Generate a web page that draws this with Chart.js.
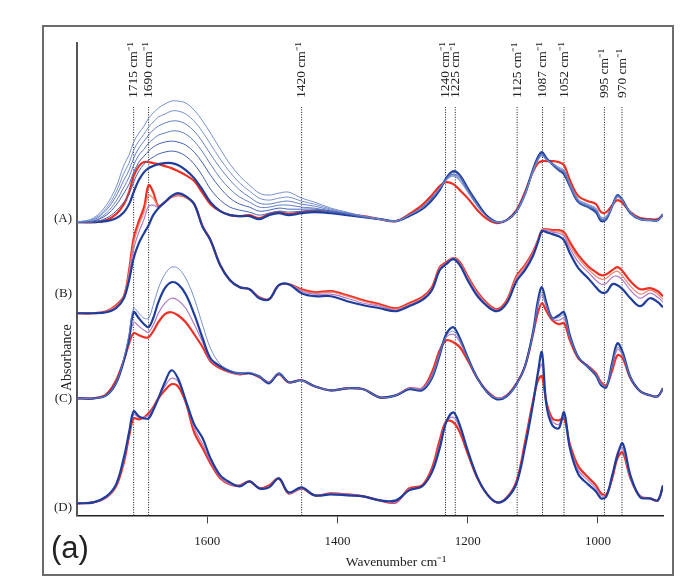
<!DOCTYPE html>
<html>
<head>
<meta charset="utf-8">
<title>FTIR spectra</title>
<script src="https://cdn.jsdelivr.net/npm/chart.js@4.4.0/dist/chart.umd.min.js"></script>
<style>
    body { margin: 0; background: #fff; }
    #wrap { width: 683px; height: 585px; }
</style>
</head>
<body>
<div id="wrap"><canvas id="myChart" width="683" height="585"></canvas></div>
<script>
// =====================
// Data
// =====================

// wavenumber grid (cm-1), shared by every trace
const wavenumbers = [1800, 1775, 1755, 1740, 1728, 1720, 1713, 1705, 1697, 1690,
    1683, 1675, 1665, 1655, 1645, 1633, 1620, 1607, 1595, 1580,
    1565, 1550, 1535, 1520, 1505, 1490, 1475, 1455, 1435, 1410,
    1385, 1360, 1335, 1310, 1290, 1270, 1255, 1243, 1233, 1222,
    1212, 1200, 1185, 1170, 1155, 1140, 1125, 1112, 1100, 1092,
    1086, 1079, 1070, 1060, 1052, 1043, 1030, 1015, 1003, 995,
    987, 978, 970, 962, 950, 935, 920, 908, 900];

const xTicks = [1600, 1400, 1200, 1000];

// group names, vertical offsets of each stacked group and where the label sits
const groupNames = ['(A)', '(B)', '(C)', '(D)'];
const groupOffsets = [2.93, 2.02, 1.17, 0.12];
const groupLabelLevels = [2.97, 2.22, 1.17, 0.08];

// marked bands: label text and where the dotted line is drawn
const markerLabels = ['1715 cm⁻¹', '1690 cm⁻¹', '1420 cm⁻¹', '1240 cm⁻¹', '1225 cm⁻¹',
    '1125 cm⁻¹', '1087 cm⁻¹', '1052 cm⁻¹', '995 cm⁻¹', '970 cm⁻¹'];
const markerPositions = [1713, 1690, 1455, 1234, 1219, 1124, 1085, 1052, 990, 963];
const markerTop = 4.08;

// (A) absorbance above the group baseline, top of the fan first
const traceA1 = [0.00, 0.04, 0.17, 0.35, 0.57, 0.67, 0.80, 0.89, 0.96, 1.04,
    1.09, 1.14, 1.18, 1.21, 1.21, 1.19, 1.12, 1.01, 0.89, 0.73,
    0.58, 0.46, 0.37, 0.29, 0.27, 0.29, 0.30, 0.24, 0.20, 0.14,
    0.10, 0.06, 0.03, 0.01, 0.07, 0.15, 0.25, 0.34, 0.42, 0.46,
    0.41, 0.30, 0.16, 0.05, 0.00, 0.02, 0.11, 0.28, 0.50, 0.62,
    0.66, 0.62, 0.59, 0.55, 0.52, 0.39, 0.23, 0.18, 0.14, 0.05,
    0.06, 0.16, 0.25, 0.21, 0.10, 0.03, 0.02, 0.02, 0.07];
const traceA2 = [0.00, 0.03, 0.14, 0.30, 0.49, 0.59, 0.72, 0.81, 0.88, 0.95,
    1.00, 1.05, 1.08, 1.11, 1.11, 1.08, 1.01, 0.90, 0.78, 0.63,
    0.50, 0.39, 0.31, 0.24, 0.22, 0.24, 0.25, 0.21, 0.18, 0.13,
    0.09, 0.06, 0.03, 0.01, 0.07, 0.15, 0.25, 0.34, 0.42, 0.47,
    0.42, 0.31, 0.16, 0.05, 0.00, 0.02, 0.11, 0.28, 0.50, 0.62,
    0.67, 0.62, 0.58, 0.54, 0.51, 0.38, 0.22, 0.17, 0.13, 0.04,
    0.05, 0.16, 0.25, 0.21, 0.10, 0.03, 0.02, 0.02, 0.07];
const traceA3 = [0.00, 0.02, 0.12, 0.26, 0.42, 0.52, 0.64, 0.74, 0.81, 0.87,
    0.92, 0.96, 0.99, 1.01, 1.01, 0.98, 0.91, 0.80, 0.68, 0.54,
    0.42, 0.32, 0.25, 0.19, 0.18, 0.20, 0.21, 0.18, 0.16, 0.12,
    0.09, 0.06, 0.03, 0.01, 0.07, 0.14, 0.24, 0.33, 0.43, 0.48,
    0.44, 0.32, 0.17, 0.05, 0.00, 0.02, 0.11, 0.28, 0.51, 0.63,
    0.68, 0.63, 0.58, 0.53, 0.50, 0.37, 0.21, 0.16, 0.12, 0.03,
    0.04, 0.16, 0.26, 0.22, 0.09, 0.03, 0.02, 0.02, 0.08];
const traceA4 = [0.00, 0.01, 0.09, 0.21, 0.35, 0.45, 0.57, 0.67, 0.73, 0.79,
    0.83, 0.87, 0.89, 0.91, 0.91, 0.88, 0.81, 0.70, 0.58, 0.44,
    0.33, 0.25, 0.20, 0.15, 0.15, 0.17, 0.17, 0.15, 0.14, 0.11,
    0.09, 0.06, 0.03, 0.01, 0.07, 0.14, 0.24, 0.33, 0.43, 0.48,
    0.44, 0.32, 0.17, 0.05, 0.00, 0.02, 0.11, 0.28, 0.51, 0.63,
    0.68, 0.63, 0.58, 0.53, 0.50, 0.37, 0.21, 0.16, 0.12, 0.03,
    0.04, 0.16, 0.26, 0.22, 0.09, 0.03, 0.02, 0.02, 0.08];
const traceA5 = [0.00, 0.01, 0.07, 0.17, 0.29, 0.38, 0.50, 0.60, 0.66, 0.71,
    0.75, 0.78, 0.80, 0.81, 0.80, 0.77, 0.70, 0.59, 0.47, 0.34,
    0.24, 0.18, 0.15, 0.11, 0.12, 0.14, 0.13, 0.13, 0.13, 0.11,
    0.08, 0.05, 0.03, 0.01, 0.07, 0.14, 0.23, 0.33, 0.44, 0.50,
    0.46, 0.33, 0.18, 0.05, 0.00, 0.02, 0.11, 0.28, 0.52, 0.64,
    0.69, 0.63, 0.58, 0.52, 0.49, 0.36, 0.20, 0.15, 0.11, 0.02,
    0.03, 0.16, 0.27, 0.22, 0.09, 0.03, 0.02, 0.02, 0.08];
const traceA6 = [0.00, 0.00, 0.04, 0.11, 0.20, 0.28, 0.40, 0.51, 0.58, 0.62,
    0.65, 0.68, 0.70, 0.71, 0.70, 0.66, 0.58, 0.46, 0.33, 0.22,
    0.15, 0.12, 0.10, 0.07, 0.09, 0.11, 0.10, 0.11, 0.12, 0.10,
    0.08, 0.05, 0.03, 0.01, 0.07, 0.14, 0.23, 0.33, 0.44, 0.50,
    0.46, 0.33, 0.18, 0.05, 0.00, 0.02, 0.11, 0.28, 0.52, 0.64,
    0.69, 0.63, 0.58, 0.52, 0.49, 0.36, 0.20, 0.15, 0.11, 0.02,
    0.03, 0.16, 0.27, 0.22, 0.09, 0.03, 0.02, 0.02, 0.08];
const traceA7 = [0.00, 0.00, 0.01, 0.04, 0.10, 0.18, 0.30, 0.42, 0.50, 0.54,
    0.56, 0.58, 0.59, 0.59, 0.57, 0.52, 0.44, 0.32, 0.20, 0.11,
    0.07, 0.06, 0.06, 0.03, 0.07, 0.09, 0.07, 0.09, 0.10, 0.09,
    0.07, 0.05, 0.03, 0.01, 0.06, 0.13, 0.22, 0.32, 0.44, 0.51,
    0.47, 0.34, 0.19, 0.06, 0.00, 0.02, 0.11, 0.28, 0.52, 0.65,
    0.70, 0.64, 0.58, 0.52, 0.48, 0.36, 0.20, 0.15, 0.10, 0.01,
    0.03, 0.16, 0.27, 0.22, 0.09, 0.03, 0.02, 0.02, 0.08];
const traceA8 = [0.00, 0.00, 0.02, 0.08, 0.18, 0.30, 0.46, 0.56, 0.60, 0.60,
    0.59, 0.58, 0.56, 0.54, 0.51, 0.47, 0.41, 0.29, 0.18, 0.11,
    0.07, 0.06, 0.07, 0.04, 0.08, 0.10, 0.08, 0.10, 0.11, 0.10,
    0.08, 0.06, 0.03, 0.01, 0.08, 0.17, 0.27, 0.36, 0.40, 0.38,
    0.32, 0.24, 0.12, 0.03, -0.01, 0.02, 0.12, 0.30, 0.50, 0.59,
    0.61, 0.61, 0.61, 0.60, 0.57, 0.42, 0.26, 0.21, 0.18, 0.10,
    0.10, 0.17, 0.22, 0.19, 0.10, 0.04, 0.03, 0.03, 0.07];

// (B)
const traceB1 = [0.00, 0.00, 0.01, 0.05, 0.15, 0.33, 0.55, 0.70, 0.80, 0.88,
    0.98, 1.05, 1.11, 1.17, 1.20, 1.17, 1.09, 0.86, 0.73, 0.48,
    0.33, 0.26, 0.24, 0.15, 0.14, 0.28, 0.29, 0.20, 0.17, 0.17,
    0.12, 0.08, 0.05, 0.02, 0.07, 0.13, 0.23, 0.43, 0.49, 0.54,
    0.48, 0.33, 0.17, 0.07, 0.02, 0.10, 0.32, 0.43, 0.57, 0.71,
    0.82, 0.81, 0.79, 0.77, 0.73, 0.60, 0.45, 0.35, 0.26, 0.21,
    0.21, 0.29, 0.28, 0.24, 0.15, 0.07, 0.15, 0.11, 0.06];
const traceB2 = [0.00, 0.00, 0.01, 0.06, 0.16, 0.38, 0.64, 0.81, 0.94, 1.07,
    1.08, 1.06, 1.11, 1.17, 1.19, 1.17, 1.09, 0.86, 0.73, 0.48,
    0.33, 0.26, 0.24, 0.15, 0.14, 0.28, 0.29, 0.22, 0.19, 0.19,
    0.15, 0.10, 0.07, 0.03, 0.08, 0.14, 0.24, 0.44, 0.50, 0.55,
    0.49, 0.35, 0.19, 0.08, 0.03, 0.11, 0.34, 0.45, 0.59, 0.72,
    0.83, 0.83, 0.81, 0.80, 0.77, 0.65, 0.51, 0.41, 0.33, 0.29,
    0.30, 0.36, 0.37, 0.33, 0.23, 0.15, 0.20, 0.16, 0.11];
const traceB3 = [0.00, 0.00, 0.02, 0.07, 0.17, 0.41, 0.70, 0.88, 1.01, 1.18,
    1.15, 1.08, 1.11, 1.16, 1.18, 1.16, 1.09, 0.87, 0.73, 0.48,
    0.33, 0.26, 0.24, 0.16, 0.14, 0.28, 0.29, 0.23, 0.20, 0.21,
    0.17, 0.12, 0.08, 0.04, 0.09, 0.15, 0.25, 0.45, 0.50, 0.55,
    0.50, 0.36, 0.20, 0.09, 0.03, 0.12, 0.36, 0.47, 0.60, 0.73,
    0.83, 0.84, 0.82, 0.82, 0.79, 0.68, 0.55, 0.44, 0.37, 0.34,
    0.35, 0.40, 0.42, 0.37, 0.27, 0.19, 0.23, 0.19, 0.14];
const traceB4 = [0.00, 0.00, 0.02, 0.08, 0.17, 0.43, 0.75, 0.92, 1.06, 1.28,
    1.21, 1.07, 1.11, 1.16, 1.18, 1.16, 1.09, 0.87, 0.73, 0.48,
    0.33, 0.26, 0.24, 0.16, 0.14, 0.28, 0.29, 0.24, 0.21, 0.22,
    0.18, 0.13, 0.09, 0.05, 0.10, 0.16, 0.26, 0.46, 0.51, 0.55,
    0.51, 0.37, 0.21, 0.10, 0.04, 0.13, 0.37, 0.48, 0.61, 0.73,
    0.83, 0.84, 0.83, 0.83, 0.81, 0.71, 0.58, 0.47, 0.41, 0.38,
    0.39, 0.43, 0.46, 0.42, 0.32, 0.24, 0.25, 0.22, 0.17];

// (C)
const traceC1 = [0.00, 0.00, 0.03, 0.15, 0.40, 0.64, 0.90, 0.85, 0.80, 0.80,
    0.93, 1.10, 1.24, 1.31, 1.30, 1.20, 1.00, 0.73, 0.50, 0.34,
    0.28, 0.25, 0.26, 0.22, 0.16, 0.25, 0.16, 0.18, 0.12, 0.08,
    0.10, 0.09, 0.01, 0.03, 0.10, 0.09, 0.21, 0.44, 0.62, 0.67,
    0.58, 0.40, 0.20, 0.06, 0.00, 0.02, 0.14, 0.32, 0.64, 0.95,
    1.06, 0.93, 0.80, 0.81, 0.83, 0.62, 0.41, 0.31, 0.24, 0.14,
    0.12, 0.34, 0.51, 0.44, 0.21, 0.07, 0.03, 0.02, 0.10];
const traceC2 = [0.00, 0.00, 0.03, 0.15, 0.38, 0.60, 0.86, 0.80, 0.74, 0.71,
    0.80, 0.96, 1.10, 1.16, 1.14, 1.04, 0.84, 0.60, 0.40, 0.32,
    0.27, 0.25, 0.25, 0.22, 0.15, 0.25, 0.16, 0.18, 0.12, 0.08,
    0.10, 0.09, 0.01, 0.03, 0.09, 0.08, 0.20, 0.43, 0.64, 0.71,
    0.60, 0.41, 0.20, 0.06, -0.01, 0.02, 0.14, 0.32, 0.65, 0.98,
    1.11, 0.95, 0.80, 0.83, 0.86, 0.63, 0.41, 0.31, 0.23, 0.13,
    0.11, 0.36, 0.55, 0.46, 0.21, 0.07, 0.03, 0.02, 0.10];
const traceC3 = [0.00, 0.00, 0.03, 0.16, 0.38, 0.58, 0.76, 0.72, 0.68, 0.66,
    0.73, 0.85, 0.95, 1.00, 0.98, 0.90, 0.74, 0.56, 0.38, 0.31,
    0.26, 0.24, 0.25, 0.21, 0.16, 0.24, 0.16, 0.18, 0.12, 0.08,
    0.10, 0.09, 0.01, 0.03, 0.10, 0.10, 0.23, 0.46, 0.61, 0.64,
    0.56, 0.40, 0.20, 0.07, 0.00, 0.03, 0.15, 0.32, 0.64, 0.92,
    1.03, 0.91, 0.79, 0.78, 0.80, 0.60, 0.41, 0.32, 0.24, 0.15,
    0.12, 0.32, 0.49, 0.43, 0.21, 0.07, 0.03, 0.02, 0.10];
const traceC4 = [0.00, 0.00, 0.04, 0.18, 0.38, 0.55, 0.65, 0.63, 0.61, 0.61,
    0.67, 0.76, 0.84, 0.86, 0.83, 0.76, 0.64, 0.51, 0.37, 0.30,
    0.26, 0.24, 0.25, 0.21, 0.16, 0.24, 0.16, 0.18, 0.12, 0.08,
    0.10, 0.09, 0.01, 0.03, 0.10, 0.10, 0.26, 0.48, 0.58, 0.56,
    0.51, 0.38, 0.20, 0.07, 0.00, 0.03, 0.15, 0.32, 0.63, 0.86,
    0.95, 0.87, 0.78, 0.74, 0.75, 0.58, 0.40, 0.32, 0.25, 0.16,
    0.13, 0.28, 0.43, 0.40, 0.20, 0.07, 0.03, 0.02, 0.10];

// (D)
const traceD1 = [0.00, 0.01, 0.07, 0.19, 0.46, 0.71, 0.92, 0.87, 0.85, 0.85,
    0.93, 1.05, 1.21, 1.33, 1.25, 1.03, 0.79, 0.65, 0.45, 0.28,
    0.21, 0.17, 0.22, 0.15, 0.16, 0.25, 0.11, 0.16, 0.08, 0.09,
    0.08, 0.07, 0.03, 0.03, 0.13, 0.17, 0.31, 0.55, 0.81, 0.91,
    0.78, 0.53, 0.26, 0.09, 0.01, 0.05, 0.20, 0.56, 0.98, 1.31,
    1.51, 0.98, 0.78, 0.75, 0.91, 0.55, 0.29, 0.19, 0.12, 0.05,
    0.07, 0.28, 0.48, 0.60, 0.28, 0.06, 0.05, 0.03, 0.18];
const traceD2 = [0.00, 0.01, 0.06, 0.18, 0.43, 0.70, 0.89, 0.86, 0.86, 0.88,
    0.95, 1.05, 1.17, 1.25, 1.22, 1.02, 0.75, 0.59, 0.42, 0.26,
    0.19, 0.18, 0.22, 0.15, 0.17, 0.25, 0.10, 0.15, 0.08, 0.10,
    0.09, 0.07, 0.03, 0.01, 0.14, 0.17, 0.33, 0.59, 0.82, 0.86,
    0.75, 0.52, 0.26, 0.09, 0.01, 0.06, 0.21, 0.59, 0.99, 1.28,
    1.39, 1.00, 0.82, 0.79, 0.88, 0.57, 0.33, 0.23, 0.15, 0.08,
    0.08, 0.27, 0.51, 0.55, 0.25, 0.07, 0.05, 0.03, 0.18];
const traceD3 = [0.00, 0.01, 0.06, 0.17, 0.41, 0.67, 0.85, 0.84, 0.86, 0.90,
    0.96, 1.05, 1.13, 1.19, 1.17, 1.01, 0.71, 0.55, 0.40, 0.25,
    0.19, 0.18, 0.22, 0.15, 0.18, 0.25, 0.10, 0.15, 0.08, 0.10,
    0.09, 0.07, 0.03, 0.01, 0.15, 0.18, 0.35, 0.63, 0.82, 0.81,
    0.71, 0.50, 0.25, 0.09, 0.01, 0.06, 0.22, 0.61, 1.01, 1.23,
    1.27, 1.01, 0.85, 0.83, 0.85, 0.59, 0.37, 0.26, 0.18, 0.10,
    0.09, 0.25, 0.45, 0.51, 0.25, 0.07, 0.05, 0.03, 0.17];

// =====================
// Styles
// =====================
const traceStyles = {
    lightBlue: { color: '#6a85c6', width: 0.9 },
    blue: { color: '#5270bc', width: 0.9 },
    midBlue: { color: '#4561b4', width: 1 },
    darkBlue: { color: '#1f3d9c', width: 2.2 },
    purple: { color: '#b07ac8', width: 1.2 },
    orange: { color: '#f3836a', width: 1.2 },
    red: { color: '#ee3024', width: 2.2 }
};

const groups = [
    { traces: [[traceA1, 'lightBlue'], [traceA2, 'lightBlue'], [traceA3, 'blue'], [traceA4, 'blue'],
        [traceA5, 'midBlue'], [traceA6, 'midBlue'], [traceA7, 'darkBlue'], [traceA8, 'red']] },
    { traces: [[traceB1, 'darkBlue'], [traceB2, 'purple'], [traceB3, 'orange'], [traceB4, 'red']] },
    { traces: [[traceC1, 'lightBlue'], [traceC2, 'darkBlue'], [traceC3, 'purple'], [traceC4, 'red']] },
    { traces: [[traceD1, 'darkBlue'], [traceD2, 'purple'], [traceD3, 'red']] }
];

// =====================
// Build datasets
// =====================
function buildDatasets() {
    const datasets = [];
    groups.forEach((group, g) => {
        group.traces.forEach(([values, styleName]) => {
            const style = traceStyles[styleName];
            datasets.push({
                data: wavenumbers.map((w, i) => ({ x: w, y: groupOffsets[g] + values[i] })),
                borderColor: style.color,
                borderWidth: style.width,
                pointRadius: 0,
                tension: 0.35,
                fill: false
            });
        });
    });

    // dotted marker lines on top
    markerPositions.forEach(pos => {
        datasets.push({
            data: [{ x: pos, y: 0 }, { x: pos, y: markerTop }],
            borderColor: '#111',
            borderWidth: 1,
            borderDash: [1, 1.5],
            pointRadius: 0,
            fill: false
        });
    });
    return datasets;
}

const serif = '"Liberation Serif", "Times New Roman", serif';

const decorations = {
    id: 'decorations',
    beforeDraw(chart) {
        const ctx = chart.ctx;
        ctx.save();
        ctx.fillStyle = '#fff';
        ctx.fillRect(0, 0, chart.width, chart.height);
        ctx.restore();
    },
    afterDraw(chart) {
        const ctx = chart.ctx;
        const area = chart.chartArea;
        const xScale = chart.scales.x;
        const yScale = chart.scales.y;
        ctx.save();

        // outer frame
        ctx.strokeStyle = '#6b6b6b';
        ctx.lineWidth = 2;
        ctx.strokeRect(area.left - 34, area.top - 17, 630, 549);

        ctx.fillStyle = '#222';

        // band labels, rotated
        ctx.font = '13.5px ' + serif;
        ctx.textAlign = 'left';
        ctx.textBaseline = 'middle';
        const labelBottom = yScale.getPixelForValue(markerTop) - 9;
        markerLabels.forEach((label, i) => {
            const x = xScale.getPixelForValue(markerPositions[i]);
            ctx.save();
            ctx.translate(x, labelBottom);
            ctx.rotate(-Math.PI / 2);
            ctx.fillText(label, 0, 0);
            ctx.restore();
        });

        // group labels
        ctx.font = '13px ' + serif;
        ctx.textAlign = 'right';
        groupNames.forEach((name, i) => {
            ctx.fillText(name, area.left - 5, yScale.getPixelForValue(groupLabelLevels[i]));
        });

        // y title
        ctx.save();
        ctx.font = '14px ' + serif;
        ctx.textAlign = 'center';
        ctx.translate(area.left - 10, area.top + (area.bottom - area.top) * 0.666);
        ctx.rotate(-Math.PI / 2);
        ctx.fillText('Absorbance', 0, 0);
        ctx.restore();

        // x title
        ctx.font = '13.5px ' + serif;
        ctx.textAlign = 'center';
        ctx.fillText('Wavenumber cm⁻¹', (area.left + area.right) / 2 + 26, area.bottom + 47);

        // panel letter
        ctx.font = '31px "Liberation Sans", Arial, sans-serif';
        ctx.textAlign = 'left';
        ctx.fillText('(a)', area.left - 26, area.bottom + 34);

        ctx.restore();
    }
};

const ctx = document.getElementById('myChart').getContext('2d');
const spectraChart = new Chart(ctx, {
    type: 'line',
    data: { datasets: buildDatasets() },
    options: {
        responsive: false,
        animation: false,
        layout: { padding: { left: 77, right: 20, top: 43, bottom: 26 } },
        plugins: {
            legend: { display: false },
            tooltip: { enabled: false }
        },
        scales: {
            x: {
                type: 'linear',
                reverse: true,
                min: 900,
                max: 1800,
                afterBuildTicks: axis => {
                    axis.ticks = xTicks.map(v => ({ value: v }));
                },
                ticks: {
                    font: { family: serif, size: 13 },
                    color: '#222',
                    padding: 10,
                    maxRotation: 0,
                    callback: value => String(value)
                },
                grid: {
                    drawOnChartArea: false,
                    drawTicks: true,
                    tickLength: 8,
                    color: '#444'
                },
                border: { color: '#222', width: 1.5 }
            },
            y: {
                min: 0,
                max: 4.72,
                ticks: { display: false },
                grid: { display: false, drawTicks: false },
                border: { color: '#555', width: 2 }
            }
        }
    },
    plugins: [decorations]
});
</script>
</body>
</html>
